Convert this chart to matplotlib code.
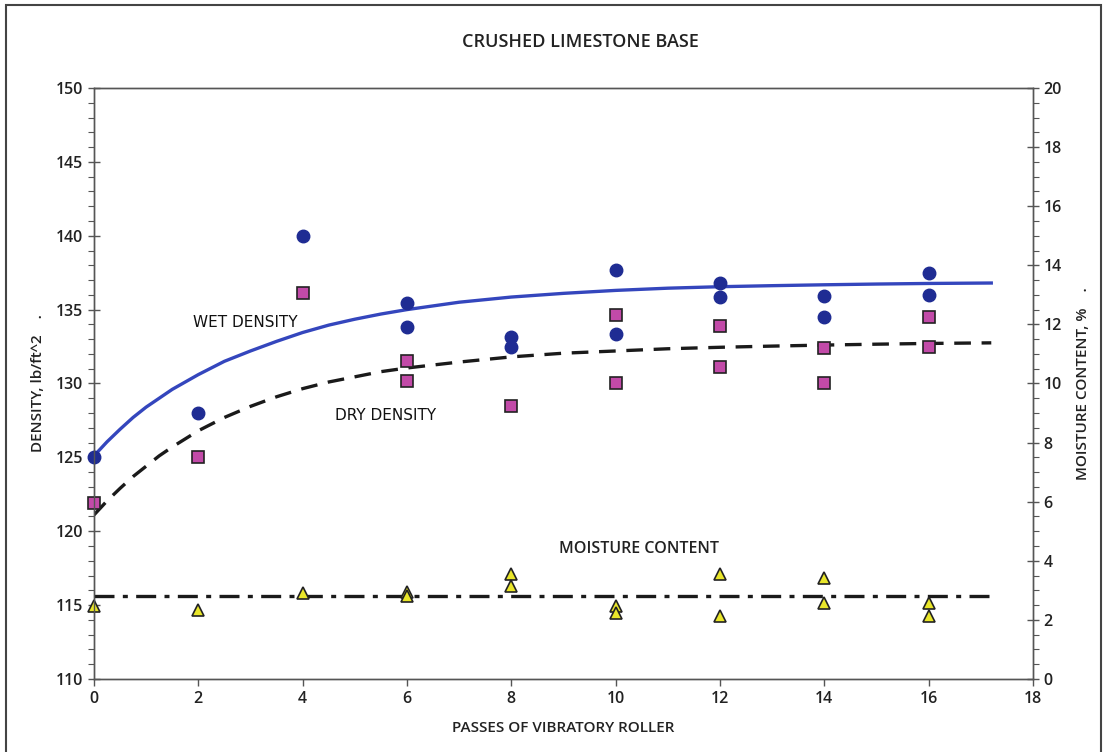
import matplotlib.pyplot as plt
from matplotlib.patches import Rectangle
from matplotlib.ticker import MultipleLocator

# passes of vibratory roller
wet_x = [0, 2, 4, 6, 6, 8, 8, 10, 10, 12, 12, 14, 14, 16, 16]
wet_y = [125.0, 128.0, 140.0, 135.45, 133.8, 133.15, 132.5, 137.7, 133.35,
         136.8, 135.85, 135.9, 134.5, 137.5, 136.0]

dry_x = [0, 2, 4, 6, 6, 8, 10, 10, 12, 12, 14, 14, 16, 16]
dry_y = [121.9, 125.0, 136.1, 131.5, 130.2, 128.5, 134.65, 130.0,
         133.9, 131.1, 132.4, 130.0, 134.5, 132.5]

moist_x = [0, 2, 4, 6, 6, 8, 8, 10, 10, 12, 12, 14, 14, 16, 16]
moist_y = [2.48, 2.35, 2.92, 2.95, 2.8, 3.54, 3.16, 2.48, 2.24, 3.56, 2.12,
           3.42, 2.58, 2.58, 2.12]

# fitted curves
curve_x = [0, 0.25, 0.5, 0.75, 1, 1.25, 1.5, 1.75, 2, 2.5, 3, 3.5, 4, 4.5,
           5, 5.5, 6, 7, 8, 9, 10, 11, 12, 13, 14, 15, 16, 17.2]
wet_curve = [125.1, 126.05, 126.9, 127.7, 128.4, 129.0, 129.6, 130.1, 130.6,
             131.5, 132.2, 132.85, 133.45, 133.95, 134.35, 134.7, 135.0,
             135.5, 135.85, 136.1, 136.3, 136.45, 136.55, 136.62, 136.68,
             136.73, 136.77, 136.8]
dry_curve = [121.1, 122.05, 122.9, 123.7, 124.4, 125.1, 125.7, 126.25, 126.8,
             127.7, 128.45, 129.1, 129.65, 130.1, 130.45, 130.8, 131.05,
             131.45, 131.8, 132.05, 132.2, 132.35, 132.45, 132.53, 132.6,
             132.66, 132.71, 132.75]
moist_line_x = [0, 17.2]
moist_line_y = [2.8, 2.8]

plt.rcParams['font.family'] = ['Open Sans', 'DejaVu Sans']
plt.rcParams['font.weight'] = 'semibold'
plt.rcParams['axes.labelweight'] = 'semibold'

fig = plt.figure(figsize=(11.04, 7.52), dpi=100)
ax = fig.add_axes([0.0851, 0.0971, 0.8506, 0.7859])
ax2 = ax.twinx()

ax.plot(curve_x, wet_curve, color='#3446bd', lw=2.4, zorder=2)
ax.plot(curve_x, dry_curve, color='#1a1a1a', lw=2.4, dashes=(5, 3.2), zorder=2)
ax.plot(wet_x, wet_y, 'o', color='#1f2c93', ms=9, mec='#1f2c93', zorder=3,
        clip_on=False)
ax.plot(dry_x, dry_y, 's', color='#c24aa8', ms=8, mec='#222222', mew=1.2,
        zorder=3, clip_on=False)

ax2.plot(moist_line_x, moist_line_y, color='#1a1a1a', lw=2.4,
         dashes=(6, 2.5, 1.5, 2.5))
ax2.plot(moist_x, moist_y, '^', color='#e9e62a', ms=8, mec='#222222', mew=1.2,
         clip_on=False)

ax.set_xlim(0, 18)
ax.set_ylim(110, 150)
ax2.set_ylim(0, 20)
ax.xaxis.set_major_locator(MultipleLocator(2))
ax.yaxis.set_major_locator(MultipleLocator(5))
ax.yaxis.set_minor_locator(MultipleLocator(1))
ax2.yaxis.set_major_locator(MultipleLocator(2))
ax2.yaxis.set_minor_locator(MultipleLocator(0.5))

for a in (ax, ax2):
    for s in a.spines.values():
        s.set_color('#555555')
        s.set_linewidth(1.0)
    a.tick_params(which='major', direction='inout', length=8, width=1,
                  color='#555555', labelsize=11.5, labelcolor='#222222')
    a.tick_params(which='minor', direction='out', length=4, width=0.8,
                  color='#555555')
ax.tick_params(axis='x', direction='out', length=5)

ax.set_xlabel('PASSES OF VIBRATORY ROLLER', fontsize=11, color='#222222',
              labelpad=10, fontweight='semibold')
ax.set_ylabel('DENSITY, lb/ft^2    .', fontsize=11, color='#222222', labelpad=8,
              fontweight='semibold')
ax2.set_ylabel('MOISTURE CONTENT, %    .', fontsize=11, color='#222222',
               labelpad=10, rotation=90, fontweight='semibold')

fig.text(0.5255, 0.944, 'CRUSHED LIMESTONE BASE', ha='center', va='center',
         fontsize=13, color='#222222',
         family=['Liberation Sans Narrow', 'Open Sans', 'DejaVu Sans'])
ax.text(1.9, 134.1, 'WET DENSITY', fontsize=11, color='#111111', va='center',
        family=['DejaVu Sans'], weight='normal')
ax.text(4.62, 127.8, 'DRY DENSITY', fontsize=11, color='#111111', va='center',
        family=['DejaVu Sans'], weight='normal')
ax2.text(10.45, 4.4, 'MOISTURE CONTENT', fontsize=11.5, color='#222222',
         ha='center', va='center',
         family=['Liberation Sans Narrow', 'Open Sans', 'DejaVu Sans'])

# outer frame of the figure
fig.patches.append(Rectangle((0.005, -0.01), 0.992, 1.003,
                             transform=fig.transFigure, fill=False,
                             edgecolor='#444444', lw=1.5))

fig.savefig('out.png', dpi=100)
